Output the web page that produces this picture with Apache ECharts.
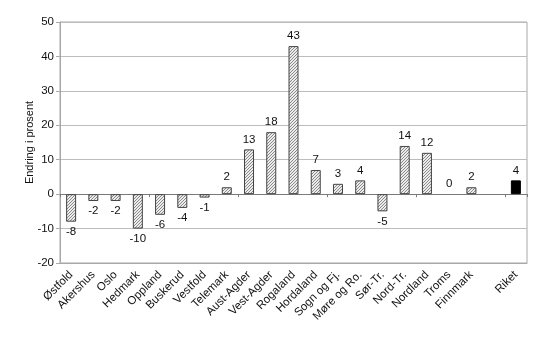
<!DOCTYPE html>
<html>
<head>
<meta charset="utf-8">
<script src="https://cdn.jsdelivr.net/npm/echarts@6/dist/echarts.min.js"></script>
<style>
  html, body { margin: 0; padding: 0; background: #fff; }
  #chart { width: 550px; height: 339px; }
</style>
</head>
<body>
<div id="chart"></div>
<script>
// Fylker (counties) plus a gap before the national total
const categories = ['Østfold', 'Akershus', 'Oslo', 'Hedmark', 'Oppland', 'Buskerud', 'Vestfold',
  'Telemark', 'Aust-Agder', 'Vest-Agder', 'Rogaland', 'Hordaland', 'Sogn og Fj.', 'Møre og Ro.',
  'Sør-Tr.', 'Nord-Tr.', 'Nordland', 'Troms', 'Finnmark', '', 'Riket'];
const changePct = [-8, -2, -2, -10, -6, -4, -1, 2, 13, 18, 43, 7, 3, 4, -5, 14, 12, 0, 2, null, 4];
const totalName = 'Riket';
const yTicks = { min: -20, max: 50, step: 10 };

// Fine diagonal hatch fill for the county bars
function hatchPattern() {
  const s = 3;
  const c = document.createElement('canvas');
  c.width = s; c.height = s;
  const g = c.getContext('2d');
  g.fillStyle = '#ececec';
  g.fillRect(0, 0, s, s);
  g.fillStyle = '#8a8a8a';
  for (let i = 0; i < s; i++) g.fillRect(i, s - 1 - i, 1, 1);
  return c;
}
const hatch = { image: hatchPattern(), repeat: 'repeat' };

const barData = changePct.map((v, i) => {
  if (v === null) return null;
  const isTotal = categories[i] === totalName;
  return {
    value: v,
    itemStyle: isTotal
      ? { color: '#000', borderColor: '#000', borderWidth: 1 }
      : { color: hatch, borderColor: '#444', borderWidth: v === 0 ? 0 : 1 },
    label: { position: v < 0 ? 'bottom' : 'top' }
  };
});

const font = 'Liberation Sans, Arial, sans-serif';
const chart = echarts.init(document.getElementById('chart'), null, { renderer: 'canvas' });
chart.setOption({
  animation: false,
  grid: { left: 60, right: 23, top: 22, bottom: 76, show: true, borderColor: '#a8a8a8', borderWidth: 1 },
  xAxis: [
    {
      type: 'category', data: categories, position: 'bottom',
      axisLine: { onZero: false, show: true, lineStyle: { color: '#a8a8a8' } },
      axisTick: { show: false },
      axisLabel: { rotate: 45, interval: 0, margin: 10, fontSize: 11.5, color: '#111', fontFamily: font }
    },
    {
      type: 'category', data: categories, position: 'bottom',
      axisLine: { onZero: true, show: true, lineStyle: { color: '#7a7a7a' } },
      axisTick: { show: true, inside: false, length: 3, alignWithLabel: false, lineStyle: { color: '#7a7a7a' } },
      axisLabel: { show: false }
    }
  ],
  yAxis: {
    type: 'value', min: yTicks.min, max: yTicks.max, interval: yTicks.step,
    name: 'Endring i prosent', nameLocation: 'middle', nameRotate: 90, nameGap: 25,
    nameMoveOverlap: false,
    nameTextStyle: { fontSize: 11, color: '#111', fontFamily: font },
    axisLine: { show: true, lineStyle: { color: '#a8a8a8' } },
    axisTick: { show: true, length: 4, lineStyle: { color: '#a8a8a8' } },
    axisLabel: { fontSize: 11.5, color: '#111', fontFamily: font, margin: 6 },
    splitLine: { show: true, lineStyle: { color: '#bdbdbd', width: 1 } }
  },
  series: [{
    type: 'bar', xAxisIndex: 0, data: barData, barWidth: 10,
    label: { show: true, fontSize: 11.5, color: '#111', fontFamily: font, distance: 4 }
  }]
});
</script>
</body>
</html>
